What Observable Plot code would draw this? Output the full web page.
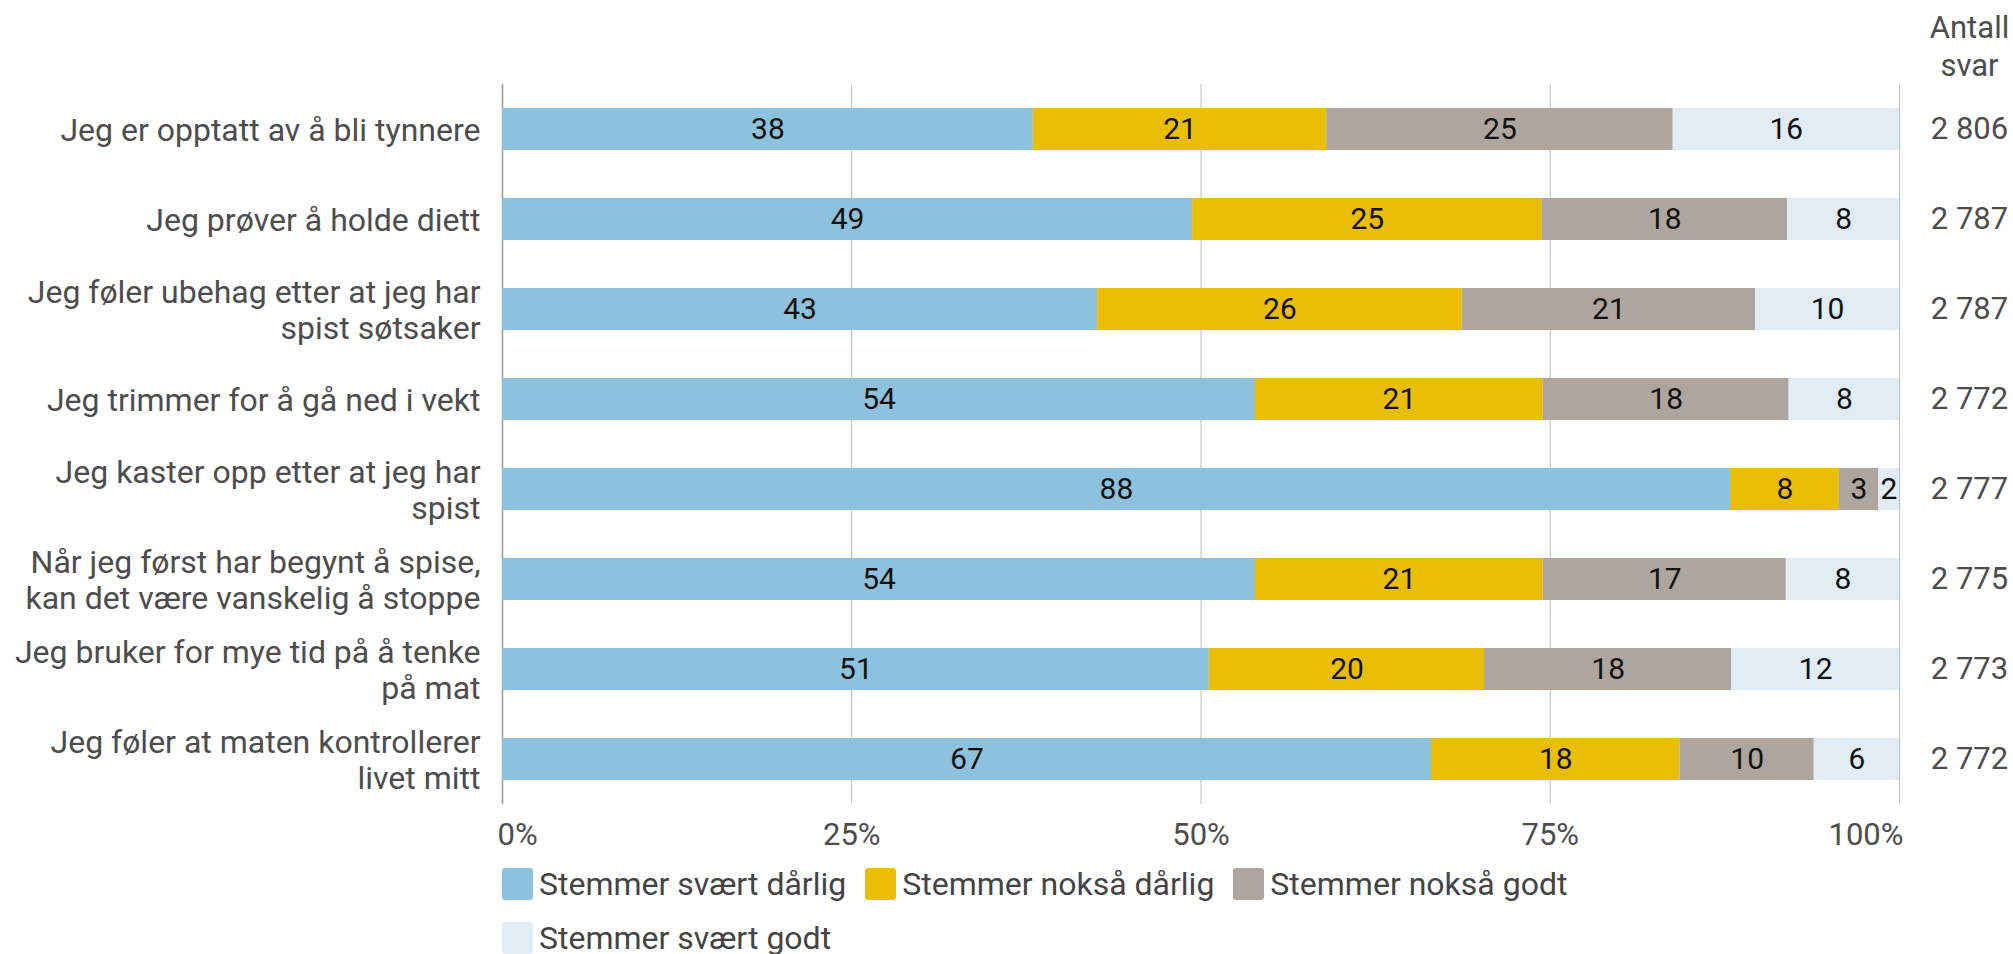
<!DOCTYPE html>
<html><head><meta charset="utf-8">
<script src="https://cdn.jsdelivr.net/npm/d3@7"></script>
<script src="https://cdn.jsdelivr.net/npm/@observablehq/plot@0.6"></script>
<style>
body{margin:0;background:#fff;font-family:Roboto,sans-serif;}
#legend{margin-left:502px;width:1400px;margin-top:10px}
.row{display:flex;height:32px;margin-bottom:22px;align-items:center}
.item{display:flex;align-items:center;margin-right:19px;font-size:32px;color:#444;line-height:32px;white-space:nowrap}
.sw{width:31px;height:32px;border-radius:3px;margin-right:6px;flex:none}
</style></head><body><div id="chart"></div><div id="legend"></div><script>
const categories = [
  "Jeg er opptatt av å bli tynnere",
  "Jeg prøver å holde diett",
  "Jeg føler ubehag etter at jeg har\nspist søtsaker",
  "Jeg trimmer for å gå ned i vekt",
  "Jeg kaster opp etter at jeg har\nspist",
  "Når jeg først har begynt å spise,\nkan det være vanskelig å stoppe",
  "Jeg bruker for mye tid på å tenke\npå mat",
  "Jeg føler at maten kontrollerer\nlivet mitt"
];
const responses = ["Stemmer svært dårlig", "Stemmer nokså dårlig", "Stemmer nokså godt", "Stemmer svært godt"];
const colors = ["#8cc2de", "#eabe07", "#aea59e", "#e1ecf5"];
const svaertDarlig = [38.0, 49.4, 42.6, 53.9, 87.9, 53.9, 50.6, 66.5];
const noksaDarlig  = [21.0, 25.0, 26.1, 20.6, 7.8, 20.6, 19.7, 17.8];
const noksaGodt    = [24.8, 17.6, 21.0, 17.6, 2.8, 17.4, 17.7, 9.6];
const svaertGodt   = [16.2, 8.0, 10.3, 7.9, 1.5, 8.1, 12.0, 6.1];
const antallSvar = [2806, 2787, 2787, 2772, 2777, 2775, 2773, 2772];
const antallHeader = "Antall\nsvar";
const xTicks = [0, 25, 50, 75, 100];
const legendRows = [responses.slice(0, 3), responses.slice(3)];

const series = [svaertDarlig, noksaDarlig, noksaGodt, svaertGodt];
const data = categories.flatMap((c, i) => responses.map((r, j) => ({category: c, response: r, value: series[j][i]})));
const fmt = d3.formatLocale({decimal: ",", thousands: " ", grouping: [3], currency: ["", " kr"]}).format(",d");
const labelColor = "#4d4d4d";

const chart = Plot.plot({
  width: 2013, height: 858,
  marginLeft: 502, marginRight: 114, marginTop: 84, marginBottom: 54,
  style: {fontFamily: "Roboto, sans-serif", fontSize: "31px", background: "#fff", overflow: "visible"},
  x: {domain: [0, 100], axis: null},
  y: {domain: categories, axis: null, padding: 0},
  color: {domain: responses, range: colors},
  marks: [
    Plot.ruleX(xTicks.filter(d => d > 0), {stroke: "#bdbdbd", strokeWidth: 1}),
    Plot.ruleX(xTicks.filter(d => d === 0), {stroke: "#999", strokeWidth: 1.5}),
    Plot.barX(data, {y: "category", x: "value", fill: "response", order: responses, insetTop: 24, insetBottom: 24}),
    Plot.text(data, Plot.stackX({y: "category", x: "value", z: "response", order: responses,
      text: d => Math.round(d.value), fill: "#111", fontSize: 30})),
    Plot.text(categories, {y: d => d, text: d => d, frameAnchor: "left", textAnchor: "end", dx: -22,
      lineHeight: 1.125, fontSize: 32, fill: labelColor}),
    Plot.text(categories, {y: d => d, text: (d, i) => fmt(antallSvar[i]), frameAnchor: "right",
      dx: 70, textAnchor: "middle", fill: labelColor}),
    Plot.text([antallHeader], {frameAnchor: "top-right", dx: 70, dy: -9, lineAnchor: "bottom",
      lineHeight: 1.226, textAnchor: "middle", fill: labelColor}),
    Plot.text(xTicks.filter(d => d === 0), {x: d => d, text: d => d + "%", frameAnchor: "bottom",
      lineAnchor: "top", textAnchor: "start", dx: -5, dy: 18, fill: labelColor}),
    Plot.text(xTicks.filter(d => d > 0 && d < 100), {x: d => d, text: d => d + "%", frameAnchor: "bottom",
      lineAnchor: "top", textAnchor: "middle", dy: 18, fill: labelColor}),
    Plot.text(xTicks.filter(d => d === 100), {x: d => d, text: d => d + "%", frameAnchor: "bottom",
      lineAnchor: "top", textAnchor: "end", dx: 4, dy: 18, fill: labelColor})
  ]
});
document.getElementById("chart").appendChild(chart);

const legend = document.getElementById("legend");
for (const row of legendRows) {
  const r = document.createElement("div");
  r.className = "row";
  for (const name of row) {
    const it = document.createElement("div");
    it.className = "item";
    const sw = document.createElement("div");
    sw.className = "sw";
    sw.style.background = colors[responses.indexOf(name)];
    it.appendChild(sw);
    const t = document.createElement("span");
    t.textContent = name;
    it.appendChild(t);
    r.appendChild(it);
  }
  legend.appendChild(r);
}
</script></body></html>
